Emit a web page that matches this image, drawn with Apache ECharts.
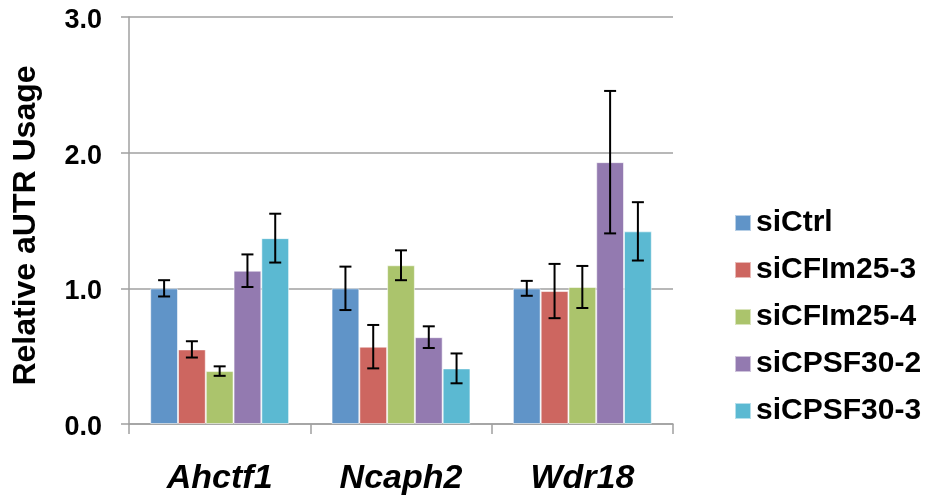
<!DOCTYPE html>
<html>
<head>
<meta charset="utf-8">
<script src="https://cdn.jsdelivr.net/npm/echarts@6/dist/echarts.min.js"></script>
<style>
html,body{margin:0;padding:0;background:#fff;}
#chart{width:934px;height:504px;}
</style>
</head>
<body>
<div id="chart"></div>
<script>
const categories = ['Ahctf1', 'Ncaph2', 'Wdr18'];
const seriesNames = ['siCtrl', 'siCFIm25-3', 'siCFIm25-4', 'siCPSF30-2', 'siCPSF30-3'];
const yTicks = [0, 1, 2, 3];

const siCtrl      = [1.00, 1.00, 1.00];
const siCFIm25_3  = [0.55, 0.57, 0.98];
const siCFIm25_4  = [0.39, 1.17, 1.01];
const siCPSF30_2  = [1.13, 0.64, 1.93];
const siCPSF30_3  = [1.37, 0.41, 1.42];

const errCtrl     = [0.06, 0.16, 0.055];
const errCFIm25_3 = [0.06, 0.16, 0.20];
const errCFIm25_4 = [0.035, 0.11, 0.155];
const errCPSF30_2 = [0.12, 0.08, 0.525];
const errCPSF30_3 = [0.18, 0.11, 0.215];

const values = [siCtrl, siCFIm25_3, siCFIm25_4, siCPSF30_2, siCPSF30_3];
const errors = [errCtrl, errCFIm25_3, errCFIm25_4, errCPSF30_2, errCPSF30_3];
const colors = ['#6094C8', '#CD6660', '#ABC46C', '#937AB0', '#5BB9D2'];

const CAT_GAP = 0.234;
const N = seriesNames.length;
const FONT = '"Liberation Sans", Arial, sans-serif';

const barSeries = seriesNames.map((name, i) => ({
  name: name,
  type: 'bar',
  data: values[i],
  barGap: '0%',
  barCategoryGap: (CAT_GAP * 100) + '%',
  itemStyle: { color: colors[i], borderColor: 'rgba(255,255,255,0.55)', borderWidth: 1 },
  emphasis: { disabled: true },
  z: 2
}));

const errData = [];
values.forEach((arr, si) => {
  arr.forEach((v, ci) => { errData.push([ci, v, errors[si][ci], si]); });
});

const errSeries = {
  type: 'custom',
  name: 'error',
  data: errData,
  encode: { x: 0, y: 1 },
  z: 10,
  silent: true,
  renderItem: function (params, api) {
    const ci = api.value(0), v = api.value(1), e = api.value(2), si = api.value(3);
    const center = api.coord([ci, v]);
    const bandW = api.size([1, 0])[0];
    const bw = bandW * (1 - CAT_GAP) / N;
    const x = center[0] + (si - (N - 1) / 2) * bw;
    const yHi = api.coord([ci, v + e])[1];
    const yLo = api.coord([ci, v - e])[1];
    const cap = 6;
    const st = { stroke: '#000', lineWidth: 2 };
    return {
      type: 'group',
      children: [
        { type: 'line', shape: { x1: x, y1: yHi, x2: x, y2: yLo }, style: st },
        { type: 'line', shape: { x1: x - cap, y1: yHi, x2: x + cap, y2: yHi }, style: st },
        { type: 'line', shape: { x1: x - cap, y1: yLo, x2: x + cap, y2: yLo }, style: st }
      ]
    };
  }
};

const chart = echarts.init(document.getElementById('chart'), null, { renderer: 'canvas' });
chart.setOption({
  animation: false,
  backgroundColor: '#ffffff',
  color: colors,
  grid: { left: 129, right: 261, top: 17, bottom: 80, containLabel: false },
  legend: {
    data: seriesNames,
    orient: 'vertical',
    left: 729,
    top: 203,
    itemWidth: 16,
    itemHeight: 16,
    itemGap: 17,
    icon: 'rect',
    textStyle: { fontFamily: FONT, fontWeight: 'bold', fontSize: 30, color: '#000', lineHeight: 30 },
    selectedMode: false
  },
  xAxis: {
    type: 'category',
    data: categories,
    axisLine: { lineStyle: { color: '#A0A0A0', width: 1.5 } },
    axisTick: { show: true, length: 10, lineStyle: { color: '#A0A0A0', width: 1.5 } },
    axisLabel: { fontFamily: FONT, fontWeight: 'bold', fontStyle: 'italic', fontSize: 34, color: '#000', margin: 38 },
    splitLine: { show: false }
  },
  yAxis: {
    type: 'value',
    min: yTicks[0],
    max: yTicks[yTicks.length - 1],
    interval: 1,
    name: 'Relative aUTR Usage',
    nameLocation: 'middle',
    nameRotate: 90,
    nameGap: 87,
    nameTextStyle: { fontFamily: FONT, fontWeight: 'bold', fontSize: 32, color: '#000', padding: [0, 10, 0, 0] },
    axisLine: { show: true, lineStyle: { color: '#A0A0A0', width: 1.5 } },
    axisTick: { show: true, length: 8, lineStyle: { color: '#A0A0A0', width: 1.5 } },
    axisLabel: { color: '#000', margin: 27,
      formatter: v => '{t|' + v.toFixed(1) + '}',
      rich: { t: { fontFamily: FONT, fontWeight: 'bold', fontSize: 27, color: '#000', padding: [7, 0, 0, 0] } } },
    splitLine: { show: true, lineStyle: { color: '#A0A0A0', width: 1.5 } }
  },
  series: barSeries.concat([errSeries])
});
</script>
</body>
</html>
